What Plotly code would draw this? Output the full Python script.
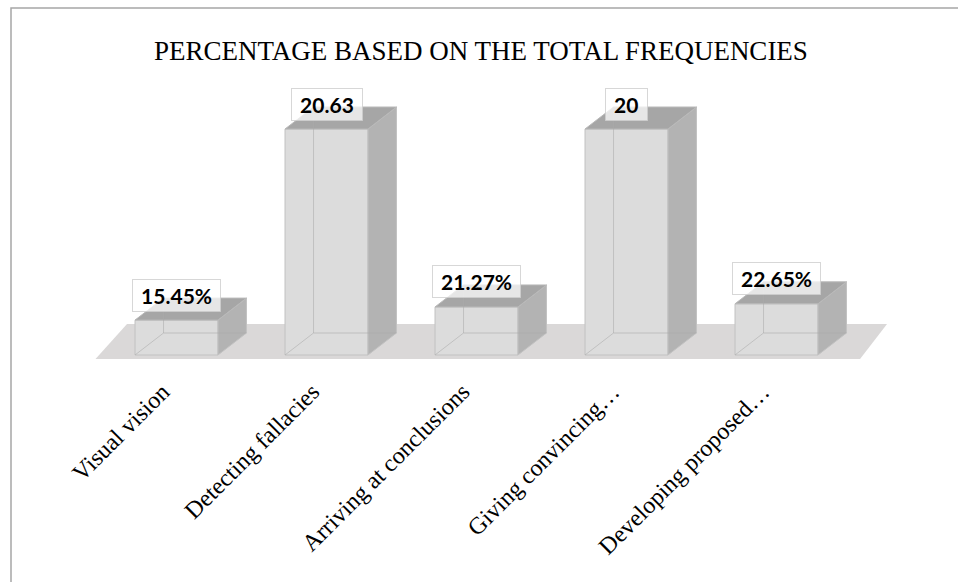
import plotly.graph_objects as go

# ---- data -------------------------------------------------------------
CATEGORIES = [
    "Visual vision",
    "Detecting fallacies",
    "Arriving at conclusions",
    "Giving convincing…",
    "Developing proposed…",
]
VALUES = [0.1545, 20.63, 0.2127, 20, 0.2265]
AXIS_MAX = 1.0  # value axis is fixed at 100 %, taller bars are cut off there

TITLE = "PERCENTAGE BASED ON THE TOTAL FREQUENCIES"

# ---- geometry / style -------------------------------------------------
W, H = 958, 582
M_T, M_B = 85, 220
BAR_W = 0.553           # front-face width, in category units
DEPTH_X = 0.19          # oblique depth offset (category units)
DEPTH_Y = 0.0973        # oblique depth offset (value units)
X_RANGE = [-1.1767, 5.21]
Y_RANGE = [-0.031, 1.1947]

FRONT = "#dcdcdc"
SIDE = "#b3b3b3"
TOP = "#a6a6a6"
EDGE = "#c2c2c2"
FLOOR = "#dad8d8"

xs = list(range(len(CATEGORIES)))
shown = [min(v, AXIS_MAX) for v in VALUES]
labels = [f"{v:.2%}" if v < 1 else f"{v:g}" for v in VALUES]

fig = go.Figure()

# front faces of the bars
fig.add_trace(go.Bar(
    x=xs, y=shown, width=BAR_W,
    marker=dict(color=FRONT, line=dict(color=EDGE, width=1)),
    customdata=labels,
    hovertemplate="%{customdata}<extra></extra>",
))

# side / top faces and see-through back edges, derived from each bar height
for x, h in zip(xs, shown):
    l, r = x - BAR_W / 2, x + BAR_W / 2
    side_x = [r, r + DEPTH_X, r + DEPTH_X, r, r]
    side_y = [0, DEPTH_Y, h + DEPTH_Y, h, 0]
    top_x = [l, r, r + DEPTH_X, l + DEPTH_X, l]
    top_y = [h, h, h + DEPTH_Y, h + DEPTH_Y, h]
    fig.add_trace(go.Scatter(x=side_x, y=side_y, fill="toself", mode="lines",
                             fillcolor=SIDE, line=dict(color=EDGE, width=1),
                             hoverinfo="skip"))
    fig.add_trace(go.Scatter(x=top_x, y=top_y, fill="toself", mode="lines",
                             fillcolor=TOP, line=dict(color="#b9b9b9", width=1),
                             hoverinfo="skip"))
    # hidden edges seen through the translucent front face
    fig.add_trace(go.Scatter(
        x=[l, l + DEPTH_X, l + DEPTH_X, None, l + DEPTH_X, r + DEPTH_X],
        y=[0, DEPTH_Y, h + DEPTH_Y, None, DEPTH_Y, DEPTH_Y],
        mode="lines", line=dict(color="rgba(170,170,170,0.55)", width=1),
        hoverinfo="skip"))

# value labels in soft white boxes above each bar
for x, h, t in zip(xs, shown, labels):
    fig.add_annotation(
        x=x, y=h, xref="x", yref="y", yshift=25, yanchor="middle",
        text="\u00a0" + t + "\u00a0", showarrow=False,
        font=dict(family="Lato", size=21, color="#000000", weight="bold"),
        bgcolor="rgba(255,255,255,0.72)", bordercolor="rgba(205,205,205,0.8)",
        borderwidth=1, borderpad=3,
    )

# floor plane under the bars
n = len(CATEGORIES)
fl_x = [-0.54, -0.33, n - 1 + 0.737, n - 1 + 0.557]
fl_y = [-0.018, 0.137, 0.137, -0.018]
floor_path = "M {} {} L {} {} L {} {} L {} {} Z".format(
    fl_x[0], fl_y[0], fl_x[1], fl_y[1], fl_x[2], fl_y[2], fl_x[3], fl_y[3])
fig.add_shape(type="path", path=floor_path, xref="x", yref="y",
              fillcolor=FLOOR, line=dict(width=0), layer="below")

# chart frame
plot_h = H - M_T - M_B
fig.add_shape(type="rect", xref="paper", yref="paper",
              x0=11 / W, x1=1.02, y0=-1.0, y1=(H - M_B - 8) / plot_h,
              line=dict(color="#a6a6a6", width=1.5), fillcolor="rgba(0,0,0,0)")

fig.update_layout(
    width=W, height=H, autosize=False,
    margin=dict(l=0, r=0, t=M_T, b=M_B, pad=0),
    paper_bgcolor="white", plot_bgcolor="white",
    showlegend=False,
    title=dict(text=TITLE, x=0.502, xanchor="center", y=(H - 51) / H,
               yanchor="middle",
               font=dict(family="Liberation Serif", size=27, color="#000000")),
    xaxis=dict(range=X_RANGE, tickmode="array", tickvals=xs, ticktext=CATEGORIES,
               tickangle=-45, showgrid=False, zeroline=False, showline=False,
               ticks="", ticklabelshift=-14, ticklabelstandoff=10,
               tickfont=dict(family="Liberation Serif", size=24,
                             color="#000000")),
    yaxis=dict(range=Y_RANGE, visible=False, showgrid=False, zeroline=False),
)

fig.write_html("out.html")
